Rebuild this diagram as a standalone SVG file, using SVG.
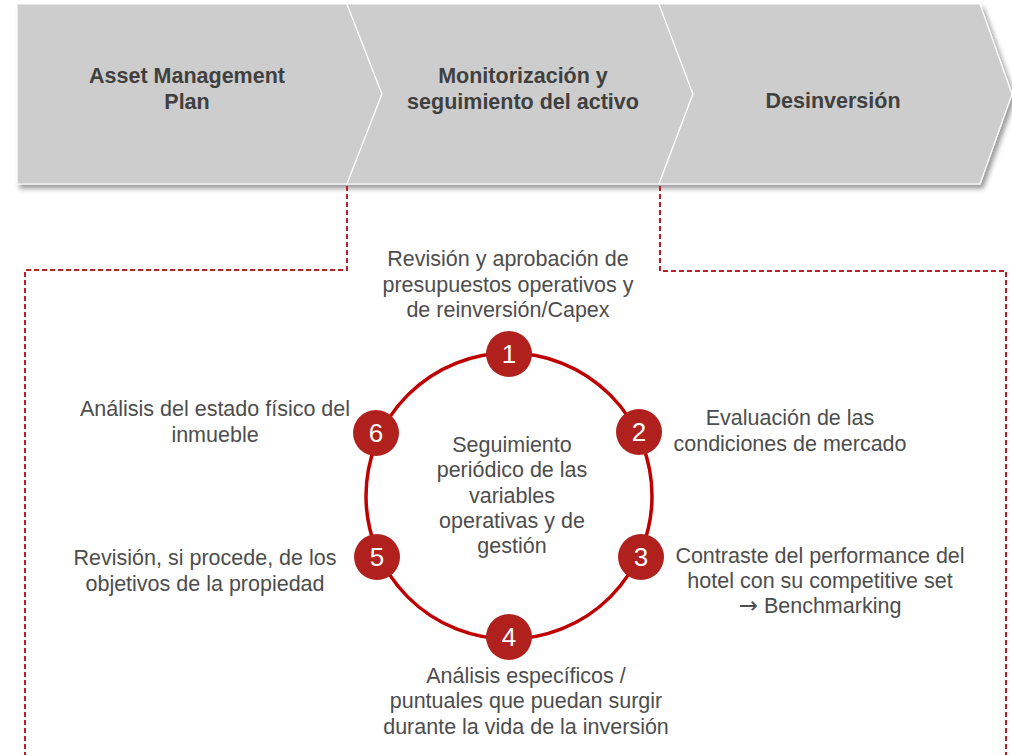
<svg xmlns="http://www.w3.org/2000/svg" width="1012" height="755" viewBox="0 0 1012 755">
<defs>
<filter id="sh" x="-5%" y="-10%" width="115%" height="130%">
<feDropShadow dx="3" dy="4" stdDeviation="2.5" flood-color="#000" flood-opacity="0.4"/>
</filter>
</defs>
<style>
.stage{fill:#cdcdcd;stroke:#fff;stroke-width:1.2}
.head{font-family:"Liberation Sans",Arial,sans-serif;font-weight:bold;font-size:21.5px;fill:#404040;text-anchor:middle}
.body{font-family:"Liberation Sans",Arial,sans-serif;font-size:21.5px;fill:#4d4d4d;text-anchor:middle}
tspan.arr{font-family:"DejaVu Sans",sans-serif;font-size:23px}
.dash{fill:none;stroke:#b82025;stroke-width:2;stroke-dasharray:5,3}
.ring{fill:none;stroke:#c00000;stroke-width:3.5}
.num{fill:#b0201c}
.numt{font-family:"Liberation Sans",Arial,sans-serif;font-size:26px;fill:#fff;text-anchor:middle}
</style>
<rect width="1012" height="755" fill="#fff"/>
<g id="stages" filter="url(#sh)">
<g id="stage-asset"><polygon class="stage" points="17,4 347,4 382,94 347,184 17,184"/></g>
<g id="stage-monitor"><polygon class="stage" points="347,4 659,4 693,94 659,184 347,184 382,94"/></g>
<g id="stage-desinv"><polygon class="stage" points="659,4 980,4 1012,94 980,184 659,184 693,94"/></g>
</g>
<g id="stage-labels">
<text class="head" x="187" y="83">Asset Management</text>
<text class="head" x="187" y="109">Plan</text>
<text class="head" x="523" y="83">Monitorización y</text>
<text class="head" x="523" y="109">seguimiento del activo</text>
<text class="head" x="833" y="108">Desinversión</text>
</g>
<g id="connectors">
<polyline class="dash" points="347,186 347,270 25,270 25,755"/>
<polyline class="dash" points="660,186 660,271 1006,271 1006,755"/>
<circle class="ring" cx="509" cy="496" r="143"/>
</g>
<g id="center">
<text class="body" x="512" y="452">Seguimiento</text>
<text class="body" x="512" y="477">periódico de las</text>
<text class="body" x="512" y="503">variables</text>
<text class="body" x="512" y="528">operativas y de</text>
<text class="body" x="512" y="553">gestión</text>
</g>
<g id="node1">
<circle class="num" cx="509" cy="354" r="23"/>
<text class="numt" x="509" y="363">1</text>
<text class="body" x="508" y="266">Revisión y aprobación de</text>
<text class="body" x="508" y="291.5">presupuestos operativos y</text>
<text class="body" x="508" y="317">de reinversión/Capex</text>
</g>
<g id="node2">
<circle class="num" cx="639" cy="432" r="23"/>
<text class="numt" x="639" y="441">2</text>
<text class="body" x="790" y="425">Evaluación de las</text>
<text class="body" x="790" y="451">condiciones de mercado</text>
</g>
<g id="node3">
<circle class="num" cx="641" cy="557" r="23"/>
<text class="numt" x="641" y="566">3</text>
<text class="body" x="820" y="563">Contraste del performance del</text>
<text class="body" x="820" y="588">hotel con su competitive set</text>
<text class="body" x="820" y="613"><tspan class="arr">→</tspan> Benchmarking</text>
</g>
<g id="node4">
<circle class="num" cx="509" cy="637" r="23"/>
<text class="numt" x="509" y="646">4</text>
<text class="body" x="526" y="683">Análisis específicos /</text>
<text class="body" x="526" y="708">puntuales que puedan surgir</text>
<text class="body" x="526" y="734">durante la vida de la inversión</text>
</g>
<g id="node5">
<circle class="num" cx="377" cy="557" r="23"/>
<text class="numt" x="377" y="566">5</text>
<text class="body" x="205" y="565">Revisión, si procede, de los</text>
<text class="body" x="205" y="591">objetivos de la propiedad</text>
</g>
<g id="node6">
<circle class="num" cx="376" cy="433" r="23"/>
<text class="numt" x="376" y="442">6</text>
<text class="body" x="215" y="416">Análisis del estado físico del</text>
<text class="body" x="215" y="442">inmueble</text>
</g>
</svg>
